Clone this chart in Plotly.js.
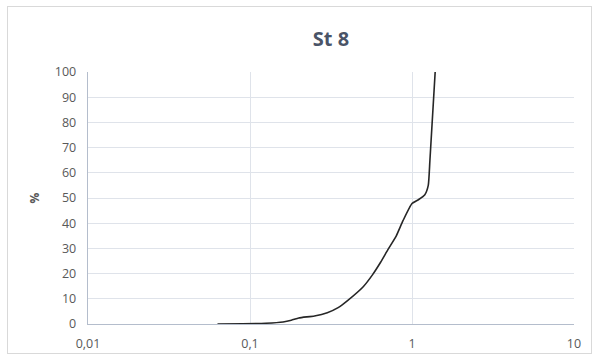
<!DOCTYPE html>
<html>
<head>
<meta charset="utf-8">
<script src="https://cdn.plot.ly/plotly-3.0.1.min.js"></script>
<style>
  html, body { margin: 0; padding: 0; background: #ffffff; }
  #wrap { position: relative; width: 599px; height: 359px; overflow: hidden; }
  #chart { position: absolute; left: 0; top: 0; width: 599px; height: 359px; }
  #frame { position: absolute; left: 7px; top: 6px; width: 583px; height: 346px; border: 1px solid #d9d9d9; pointer-events: none; }
</style>
</head>
<body>
<div id="wrap">
  <div id="chart"></div>
  <div id="frame"></div>
</div>
<script>
// Grain size (mm) and cumulative percent passing
const sizes = [0.063, 0.09, 0.125, 0.16, 0.18, 0.2, 0.25, 0.3, 0.35, 0.4, 0.5, 0.57, 0.64, 0.71, 0.8, 0.88, 1.0, 1.1, 1.2, 1.26, 1.29, 1.39];
const percent = [0, 0.1, 0.3, 0.8, 1.5, 2.4, 3.2, 4.5, 6.5, 9.3, 14.8, 19.5, 24.5, 29.5, 35, 41, 47.8, 49.4, 51.3, 55, 65, 100];

const xTickVals = [0.01, 0.1, 1, 10];
const xTickText = ["0,01", "0,1", "1", "10"];
const yTickVals = [0, 10, 20, 30, 40, 50, 60, 70, 80, 90, 100];

const trace = {
  x: sizes,
  y: percent,
  type: 'scatter',
  mode: 'lines',
  line: { color: '#262626', width: 1.6, shape: 'spline', smoothing: 0.5 },
  hoverinfo: 'skip'
};

const layout = {
  width: 599,
  height: 359,
  margin: { l: 88, r: 25, t: 72, b: 35 },
  paper_bgcolor: '#ffffff',
  plot_bgcolor: '#ffffff',
  showlegend: false,
  font: { family: '"Open Sans", "Noto Sans", sans-serif', color: '#595959', size: 12 },
  title: {
    text: '<b>St 8</b>',
    x: 0.5, xref: 'paper', xanchor: 'center',
    y: 0.892, yref: 'container', yanchor: 'middle',
    font: { family: '"Open Sans", "Noto Sans", sans-serif', size: 20, color: '#4a5467' }
  },
  xaxis: {
    type: 'log',
    range: [-2, 1],
    tickvals: xTickVals,
    ticktext: xTickText,
    showgrid: true,
    gridcolor: '#dfe3ea',
    gridwidth: 1,
    zeroline: false,
    showline: true,
    linecolor: '#b4bdcc',
    linewidth: 1.3,
    ticks: '',
    ticklabelstandoff: 8,
    tickfont: { size: 12.5, color: '#595959' },
    fixedrange: true
  },
  yaxis: {
    range: [0, 100],
    tickvals: yTickVals,
    showgrid: true,
    gridcolor: '#dfe3ea',
    gridwidth: 1,
    zeroline: false,
    showline: true,
    linecolor: '#b4bdcc',
    linewidth: 1.3,
    ticks: '',
    ticklabelstandoff: 8,
    tickfont: { size: 12.5, color: '#595959' },
    title: { text: '<b>%</b>', standoff: 12, font: { size: 12, color: '#595959' } },
    fixedrange: true
  }
};

Plotly.newPlot('chart', [trace], layout, { staticPlot: true, displayModeBar: false });
</script>
</body>
</html>
